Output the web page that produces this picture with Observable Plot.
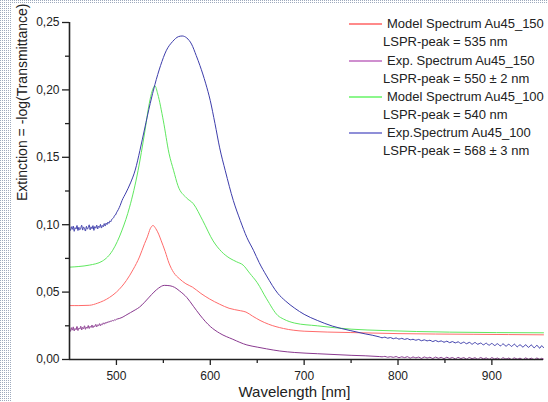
<!DOCTYPE html>
<html>
<head>
<meta charset="utf-8">
<script src="https://cdn.jsdelivr.net/npm/d3@7"></script>
<script src="https://cdn.jsdelivr.net/npm/@observablehq/plot@0.6"></script>
<style>
  html, body { margin: 0; padding: 0; }
  body {
    width: 548px; height: 402px; overflow: hidden; position: relative;
    background-color: #fff;
    background-image: linear-gradient(transparent 1px, #fff 1px), linear-gradient(90deg, #9eaabd 1px, #fff 1px);
    background-size: 2px 2px;
    font-family: "Liberation Sans", Arial, sans-serif;
  }
  #paper { position: absolute; left: 12px; top: 3px; width: 536px; height: 399px; background: #fff; }
  #legend { position: absolute; left: 0; top: 0; width: 548px; height: 402px; pointer-events: none; }
  .sw { position: absolute; height: 2px; width: 33px; left: 349px; }
  .lt { position: absolute; font-size: 13px; color: #222; white-space: nowrap; line-height: 16px; }
</style>
</head>
<body>
<div id="paper"></div>
<div id="legend"></div>
<script>
// ---- data (wavelength nm, extinction) ----
const modelAu150 = [
  [450,0.0400],[460,0.0400],[471,0.0402],[480,0.0418],[492.5,0.0460],[500,0.0500],[510.6,0.0586],
  [518,0.0670],[524.5,0.0760],[530,0.0860],[533,0.0910],[536,0.0970],[539,0.0994],[542,0.0970],
  [545,0.0930],[547.5,0.0885],[552,0.0800],[556,0.0715],[561,0.0645],[567,0.0600],[574,0.0562],
  [581,0.0537],[590,0.0490],[599,0.0450],[610,0.0410],[620,0.0380],[632,0.0362],[638,0.0352],
  [645,0.0322],[653,0.0290],[662,0.0262],[678,0.0230],[700,0.0210],[749,0.0200],[800,0.0192],
  [880,0.0187],[955,0.0183]
];
const expAu150 = [
  [450,0.0228],[451,0.0209],[452,0.0236],[453,0.0218],[454,0.0242],[455,0.0212],[456,0.0230],
  [457,0.0221],[458,0.0245],[459,0.0215],[460,0.0233],[461,0.0226],[462,0.0247],[463,0.0219],
  [464,0.0238],[465,0.0229],[466,0.0250],[467,0.0224],[468,0.0241],[469,0.0232],[470,0.0252],
  [471,0.0230],[472,0.0246],[473,0.0238],[474,0.0256],[475,0.0236],[476,0.0250],[477,0.0244],
  [478,0.0261],[479,0.0242],[480,0.0257],[481,0.0251],[482,0.0266],[483,0.0250],[484,0.0263],
  [485,0.0259],[486,0.0272],[487,0.0262],[488,0.0274],[489,0.0268],[490,0.0279],[491,0.0273],
  [492,0.0283],[493,0.0278],[494,0.0287],[495,0.0284],[496,0.0290],[497,0.0288],[498,0.0294],
  [499,0.0293],[500,0.0298],[503,0.0304],[506,0.0312],
  [510,0.0328],[515,0.0348],[520,0.0368],[524.5,0.0388],[530,0.0425],[535,0.0463],[540,0.0500],
  [545,0.0530],[551,0.0550],[557,0.0547],[562,0.0535],[567,0.0510],[575,0.0460],[582,0.0395],
  [589,0.0330],[595,0.0280],[600,0.0245],[610,0.0195],[624,0.0150],[639,0.0108],[650,0.0092],
  [660,0.0079],[674,0.0063],[690,0.0052],[714,0.0043],[750,0.0031],
  [780,0.0022],[783,0.0020],[786,0.0023],[789,0.0017],[792,0.0021],[795,0.0016],[798,0.0022],
  [801,0.0013],[804,0.0020],[807,0.0014],[810,0.0021],[813,0.0010],[816,0.0019],[819,0.0012],
  [822,0.0018],[825,0.0008],[828,0.0019],[831,0.0011],[834,0.0017],[837,0.0007],[840,0.0018],
  [843,0.0009],[846,0.0016],[849,0.0006],[852,0.0017],[855,0.0008],[858,0.0015],[861,0.0004],
  [864,0.0016],[867,0.0007],[870,0.0014],[873,0.0003],[876,0.0015],[879,0.0006],[882,0.0013],
  [885,0.0002],[888,0.0015],[891,0.0005],[894,0.0012],[897,0.0001],[900,0.0014],[903,0.0004],
  [906,0.0011],[909,0.0000],[912,0.0013],[915,0.0003],[918,0.0011],[921,0.0000],[924,0.0012],
  [927,0.0002],[930,0.0010],[933,-0.0001],[936,0.0012],[939,0.0001],[942,0.0010],[945,-0.0001],
  [948,0.0011],[951,0.0001],[953,0.0009],[955,0.0003]
];
const modelAu100 = [
  [450,0.0685],[460,0.0690],[471,0.0700],[485,0.0730],[496,0.0810],[506,0.0960],[514,0.1130],
  [523,0.1400],[530,0.1680],[535,0.1900],[538,0.1990],[541,0.2030],[544,0.1970],[550,0.1770],
  [556,0.1530],[561,0.1400],[565.5,0.1290],[574.5,0.1200],[582,0.1155],[592,0.1030],[603,0.0880],
  [612,0.0800],[621,0.0750],[628,0.0725],[635,0.0700],[642,0.0640],[650,0.0570],[660,0.0450],
  [672,0.0326],[678,0.0300],[690,0.0270],[714,0.0250],[750,0.0225],[784,0.0215],[855,0.0203],
  [955,0.0198]
];
const expAu100 = [
  [450,0.0972],[451,0.0958],[452,0.0985],[453,0.0966],[454,0.0990],[455,0.0951],[456,0.0978],
  [457,0.0969],[458,0.0994],[459,0.0957],[460,0.0981],[461,0.0962],[462,0.0975],[463,0.0996],
  [464,0.0960],[465,0.0983],[466,0.0971],[467,0.0953],[468,0.0988],[469,0.0967],[470,0.0979],
  [471,0.0999],[472,0.0962],[473,0.0984],[474,0.0970],[475,0.0993],[476,0.0958],[477,0.0986],
  [478,0.0974],[479,0.0997],[480,0.0968],[481,0.0989],[482,0.0980],[483,0.1002],[484,0.0975],
  [485,0.0994],[486,0.0985],[487,0.1008],[488,0.0990],[489,0.1012],[490,0.1001],[491,0.1020],
  [492,0.1010],[493,0.1028],[494,0.1022],[495,0.1040],[496,0.1045],[497,0.1052],[498,0.1068],
  [499,0.1072],[500,0.1088],[502,0.1112],[504,0.1143],
  [506,0.1180],[510,0.1235],[515,0.1310],[520,0.1405],[525,0.1550],[530,0.1710],[536,0.1900],
  [541,0.2040],[547,0.2180],[553,0.2290],[560,0.2360],[566,0.2395],[570,0.2400],[575,0.2385],
  [580,0.2340],[585,0.2255],[589,0.2180],[595,0.2050],[600,0.1920],[605,0.1750],[610,0.1570],
  [616,0.1400],[624.5,0.1180],[632,0.1030],[639,0.0905],[646,0.0810],[652,0.0720],[660,0.0620],
  [672,0.0490],[680,0.0435],[690,0.0380],[700,0.0335],[714,0.0290],[730,0.0248],[749,0.0215],
  [765,0.0190],
  [780,0.0168],[783,0.0161],[786,0.0166],[789,0.0158],[792,0.0163],[795,0.0154],[798,0.0160],
  [801,0.0151],[804,0.0157],[807,0.0149],[810,0.0155],[813,0.0146],[816,0.0150],[819,0.0143],
  [822,0.0149],[825,0.0139],[828,0.0146],[831,0.0138],[834,0.0143],[837,0.0133],[840,0.0141],
  [843,0.0132],[846,0.0138],[849,0.0128],[852,0.0136],[855,0.0125],[858,0.0133],[861,0.0123],
  [864,0.0131],[867,0.0119],[870,0.0129],[873,0.0117],[876,0.0127],[879,0.0114],[882,0.0126],
  [885,0.0113],[888,0.0122],[891,0.0109],[894,0.0121],[897,0.0106],[900,0.0119],[903,0.0104],
  [906,0.0117],[909,0.0101],[912,0.0116],[915,0.0099],[918,0.0113],[921,0.0097],[924,0.0114],
  [927,0.0094],[930,0.0110],[933,0.0092],[936,0.0109],[939,0.0090],[942,0.0108],[945,0.0087],
  [948,0.0105],[951,0.0084],[953,0.0102],[955,0.0088]
];
const xTicks = [500, 600, 700, 800, 900];
const xMinorTicks = [550, 650, 750, 850];
const yTicks = [0, 0.05, 0.10, 0.15, 0.20, 0.25];
const yMinorTicks = [0.025, 0.075, 0.125, 0.175, 0.225];
const xLabel = "Wavelength [nm]";
const yLabel = "Extinction = -log(Transmittance)";
const legendItems = [
  {name: "Model Spectrum Au45_150", peak: "LSPR-peak = 535 nm", color: "#ff8a8a"},
  {name: "Exp. Spectrum Au45_150", peak: "LSPR-peak = 550 ± 2 nm", color: "#cf8fcf"},
  {name: "Model Spectrum Au45_100", peak: "LSPR-peak = 540 nm", color: "#8cf78c"},
  {name: "Exp.Spectrum Au45_100", peak: "LSPR-peak = 568 ± 3 nm", color: "#8f8fd8"}
];
const seriesColors = ["#ff6b6b", "#8a3a90", "#5fe85f", "#3d3dab"];

// ---- chart ----
const fmt = d => d.toFixed(2).replace(".", ",");
const series = [modelAu150, expAu150, modelAu100, expAu100];
const chart = Plot.plot({
  width: 536, height: 399,
  marginLeft: 57, marginRight: 5, marginTop: 19, marginBottom: 43,
  style: {fontFamily: "Liberation Sans, Arial, sans-serif", color: "#222", background: "transparent"},
  x: {domain: [450, 955]},
  y: {domain: [0, 0.25]},
  marks: [
    ...series.map((s, i) => Plot.line(s, {x: d => d[0], y: d => d[1], stroke: seriesColors[i], strokeWidth: 1, curve: "monotone-x"})),
    Plot.axisX({ticks: xTicks, tickSize: 6, tickPadding: 6, fontSize: 12, label: null, strokeWidth: 1.3}),
    Plot.axisX({ticks: xMinorTicks, tickSize: 4, tickFormat: () => "", label: null, strokeWidth: 1.3}),
    Plot.axisY({ticks: yTicks, tickSize: 7, tickPadding: 3, tickFormat: fmt, fontSize: 12, label: null, strokeWidth: 1.3}),
    Plot.axisY({ticks: yMinorTicks, tickSize: 4, tickFormat: () => "", label: null, strokeWidth: 1.3}),
    Plot.ruleX([450], {stroke: "#222", strokeWidth: 1.6}),
    Plot.ruleY([0], {stroke: "#222", strokeWidth: 1.6}),
    Plot.text([xLabel], {frameAnchor: "bottom", dx: -12, dy: 33, lineAnchor: "middle", fontSize: 15, fill: "#222"}),
    Plot.text([yLabel], {frameAnchor: "left", rotate: -90, dx: -47, dy: 10, lineAnchor: "middle", fontSize: 14, fill: "#222"})
  ]
});
document.getElementById("paper").appendChild(chart);

// ---- legend (HTML overlay) ----
const leg = document.getElementById("legend");
const rowTops = [24, 61, 97, 133];
legendItems.forEach((it, i) => {
  const y = rowTops[i];
  const sw = document.createElement("div");
  sw.className = "sw"; sw.style.top = (y - 1) + "px"; sw.style.background = it.color;
  leg.appendChild(sw);
  const t1 = document.createElement("div");
  t1.className = "lt"; t1.style.left = "387px"; t1.style.top = (y - 8) + "px"; t1.textContent = it.name;
  leg.appendChild(t1);
  const t2 = document.createElement("div");
  t2.className = "lt"; t2.style.left = "383px"; t2.style.top = (y + 10) + "px"; t2.textContent = it.peak;
  leg.appendChild(t2);
});
</script>
</body>
</html>
